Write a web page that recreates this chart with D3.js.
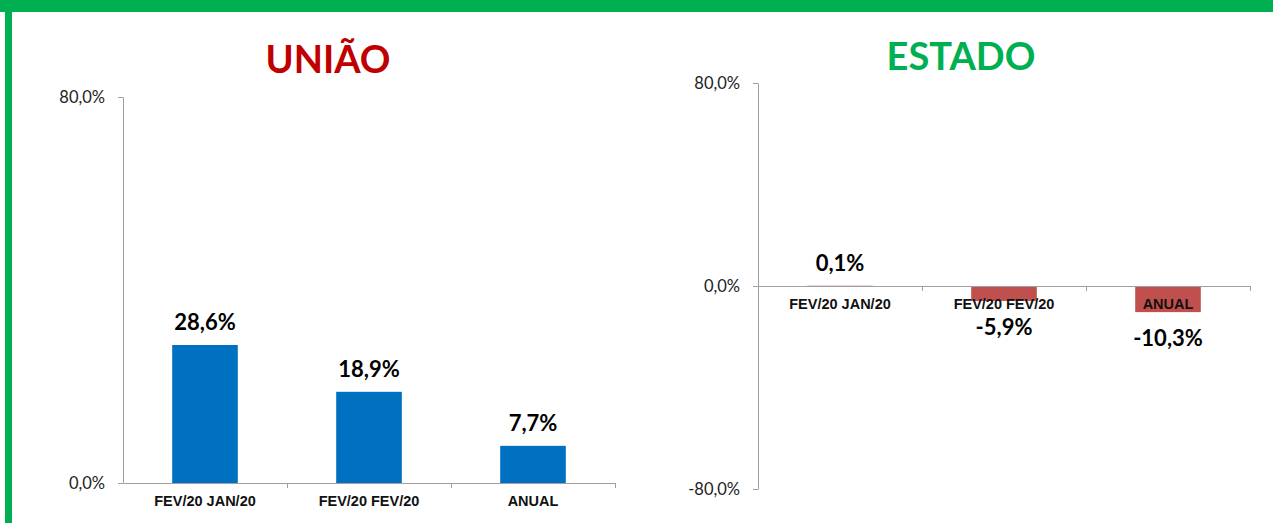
<!DOCTYPE html>
<html><head><meta charset="utf-8">
<script src="https://cdn.jsdelivr.net/npm/d3@7"></script>
<style>
html,body{margin:0;padding:0;background:#fff;}
svg{display:block;}
</style></head>
<body>
<svg id="chart" width="1273" height="523"></svg>
<script>
const categories = ["FEV/20 JAN/20", "FEV/20 FEV/20", "ANUAL"];
const uniaoValues = [28.6, 18.9, 7.7];
const estadoValues = [0.1, -5.9, -10.3];
const uniaoTicks = [0, 80];
const estadoTicks = [-80, 0, 80];

const svg = d3.select("#chart");
const green = "#00b050";

// border
svg.append("rect").attr("x",0).attr("y",0).attr("width",1273).attr("height",12).attr("fill",green);
svg.append("rect").attr("x",5).attr("y",0).attr("width",7).attr("height",523).attr("fill",green);

const fmt = v => v.toFixed(1).replace(".", ",") + "%";
const axisColor = "#a0a0a0";

function panel(opts){
  const {title, titleColor, titleX, titleY, values, domain, ticks, x0, x1, yTop, yBot, barColor, catOffset} = opts;
  const g = svg.append("g");
  const y = d3.scaleLinear().domain(domain).range([yBot, yTop]);
  const x = d3.scaleBand().domain(categories).range([x0, x1]).paddingInner(0.6).paddingOuter(0.3);

  g.append("text").attr("x", titleX).attr("y", titleY).attr("text-anchor","middle")
    .attr("font-family","Lato, 'Open Sans', sans-serif").attr("font-weight","bold")
    .attr("font-size",38).attr("fill",titleColor).text(title);

  // bars
  g.selectAll("rect.bar").data(values).join("rect").attr("class","bar")
    .attr("x",(d,i)=>x(categories[i])).attr("width",x.bandwidth())
    .attr("y",d=>y(Math.max(0,d))).attr("height",d=>Math.abs(y(d)-y(0)))
    .attr("fill",barColor);

  // y axis
  const ya = g.append("g").attr("transform",`translate(${x0},0)`)
    .call(d3.axisLeft(y).tickValues(ticks).tickFormat(fmt).tickSize(5).tickSizeOuter(0));
  ya.select(".domain").attr("stroke",axisColor);
  ya.selectAll(".tick line").attr("stroke",axisColor);
  ya.selectAll(".tick text").attr("x",-18).attr("font-family","Lato, 'Open Sans', sans-serif")
    .attr("font-size",16.5).attr("fill","#222");

  // x axis line with boundary ticks
  const xl = d3.scaleLinear().domain([0,3]).range([x0,x1]);
  const xa = g.append("g").attr("transform",`translate(0,${y(0)})`)
    .call(d3.axisBottom(xl).tickValues([1,2,3]).tickFormat("").tickSize(5).tickSizeOuter(0));
  xa.select(".domain").attr("stroke",axisColor);
  xa.selectAll(".tick line").attr("stroke",axisColor);
  xa.selectAll(".tick text").remove();

  // category labels
  g.selectAll("text.cat").data(categories).join("text").attr("class","cat")
    .attr("x",d=>x(d)+x.bandwidth()/2).attr("y",y(0)+23)
    .attr("text-anchor","middle").attr("font-family","'Liberation Sans', Arial, sans-serif")
    .attr("font-weight","bold").attr("font-size",14.5).attr("fill","#111").text(d=>d);

  // value labels
  g.selectAll("text.val").data(values).join("text").attr("class","val")
    .attr("x",(d,i)=>x(categories[i])+x.bandwidth()/2)
    .attr("y",d=> d>=0 ? y(d)-15 : y(d)+34)
    .attr("text-anchor","middle").attr("font-family","Lato, 'Open Sans', sans-serif")
    .attr("font-weight","bold").attr("font-size",22).attr("fill","#000").text(fmt);
}

panel({title:"UNIÃO", titleColor:"#c00000", titleX:328, titleY:73, values:uniaoValues,
  domain:[0,80], ticks:uniaoTicks, x0:123, x1:615, yTop:97, yBot:483, barColor:"#0070c0"});
panel({title:"ESTADO", titleColor:green, titleX:961, titleY:70, values:estadoValues,
  domain:[-80,80], ticks:estadoTicks, x0:758, x1:1250, yTop:83, yBot:489, barColor:"#c0504d"});
</script>
</body></html>
